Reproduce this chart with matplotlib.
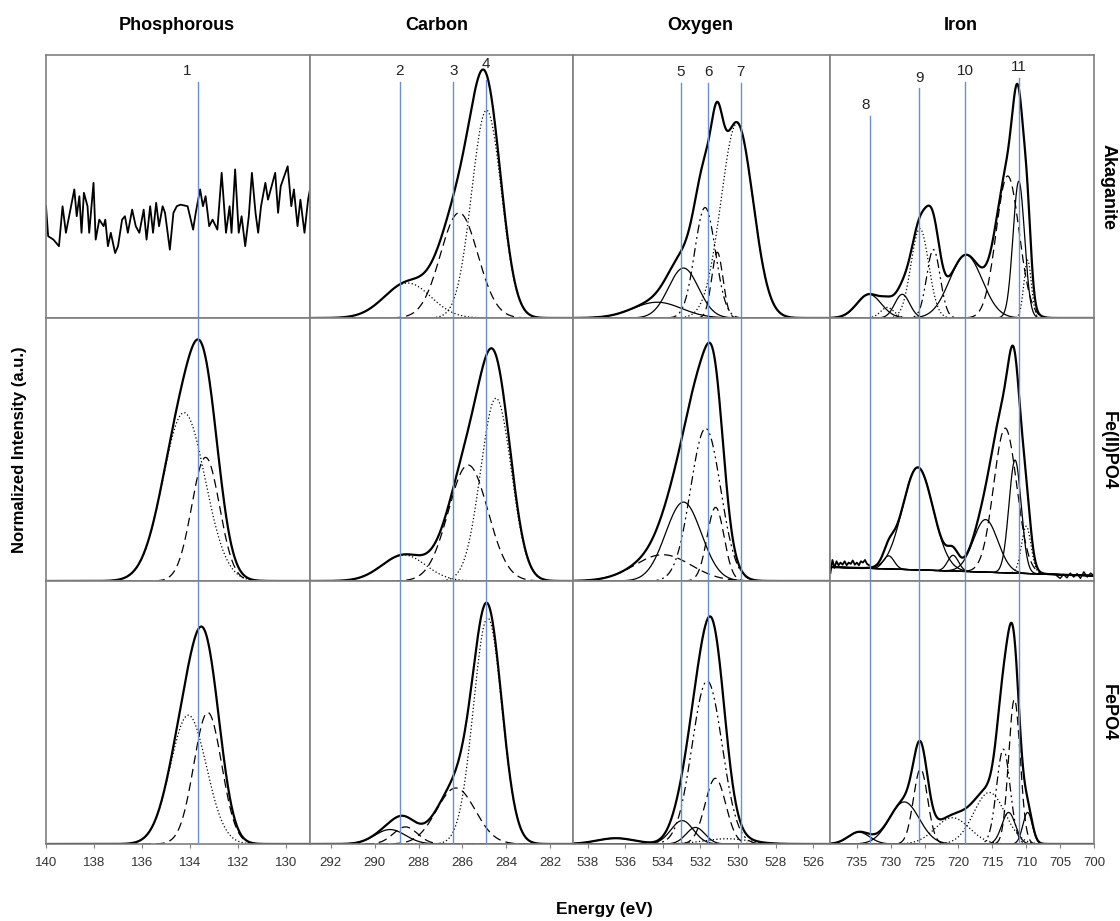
import numpy as np
import matplotlib
matplotlib.use('Agg')
import matplotlib.pyplot as plt

plt.rcParams['font.family'] = ['Liberation Sans', 'DejaVu Sans']

elements = ['Phosphorous', 'Carbon', 'Oxygen', 'Iron']
samples = ['Akaganite', 'Fe(II)PO4', 'FePO4']

# energy window of each column, high -> low binding energy
x_windows = [(140.0, 129.0), (292.95, 280.96), (538.78, 525.1), (738.96, 700.0)]
x_ticks = [[140, 138, 136, 134, 132, 130],
           [292, 290, 288, 286, 284, 282],
           [538, 536, 534, 532, 530, 528, 526],
           [735, 730, 725, 720, 715, 710, 705, 700]]

# reference peak positions (eV)
peak_ids = ['1', '2', '3', '4', '5', '6', '7', '8', '9', '10', '11']
peak_col = [0, 1, 1, 1, 2, 2, 2, 3, 3, 3, 3]
peak_energy = [133.68, 288.86, 286.42, 284.94, 533.05, 531.59, 529.86,
               733.03, 725.76, 719.0, 711.1]

# raw P 2p scan of akaganite (no real peak, just noise)
akag_p_energy = [140.00, 139.91, 139.69, 139.46, 139.31, 139.17, 138.82, 138.72, 138.61,
                 138.52, 138.42, 138.27, 138.20, 138.02, 137.93, 137.78, 137.60, 137.53,
                 137.42, 137.30, 137.12, 137.00, 136.83, 136.71, 136.59, 136.41, 136.26,
                 136.11, 135.93, 135.81, 135.66, 135.54, 135.41, 135.29, 135.14, 135.04,
                 134.84, 134.69, 134.55, 134.40, 134.10, 133.87, 133.76, 133.58, 133.46,
                 133.35, 133.20, 133.06, 132.86, 132.68, 132.50, 132.35, 132.27, 132.12,
                 131.97, 131.85, 131.70, 131.55, 131.42, 131.27, 131.16, 131.04, 130.86,
                 130.75, 130.45, 130.33, 130.22, 129.93, 129.78, 129.67, 129.52, 129.40,
                 129.23, 129.08, 129.00]
akag_p_signal = [0.425, 0.311, 0.298, 0.273, 0.425, 0.324, 0.489, 0.387, 0.463,
                 0.324, 0.476, 0.425, 0.324, 0.514, 0.298, 0.374, 0.349, 0.374,
                 0.273, 0.324, 0.247, 0.273, 0.374, 0.387, 0.324, 0.412, 0.349,
                 0.324, 0.412, 0.298, 0.425, 0.324, 0.438, 0.349, 0.425, 0.400,
                 0.260, 0.400, 0.425, 0.431, 0.425, 0.336, 0.400, 0.489, 0.425,
                 0.463, 0.349, 0.374, 0.336, 0.552, 0.324, 0.425, 0.324, 0.565,
                 0.324, 0.387, 0.273, 0.387, 0.552, 0.400, 0.324, 0.425, 0.514,
                 0.450, 0.552, 0.400, 0.501, 0.577, 0.425, 0.489, 0.349, 0.450,
                 0.324, 0.450, 0.489]

# fitted components: (centre eV, sigma eV, height)
c_akag = [(288.5, 1.06, 0.133), (286.15, 0.85, 0.40), (284.9, 0.68, 0.79)]
o_akag = [(534.3, 1.3, 0.06), (532.9, 0.8, 0.19), (531.75, 0.55, 0.42),
          (531.1, 0.3, 0.25), (530.05, 0.85, 0.74)]
fe_akag = [(733.2, 1.8, 0.09), (730.5, 1.0, 0.04), (728.3, 1.1, 0.09),
           (725.7, 1.3, 0.34), (723.7, 1.0, 0.26), (718.9, 2.4, 0.24),
           (712.74, 1.7, 0.54), (711.1, 0.85, 0.52), (709.8, 0.55, 0.22)]

p_fe2 = [(134.25, 0.88, 0.64), (133.35, 0.58, 0.47)]
c_fe2 = [(288.67, 1.0, 0.099), (285.74, 0.9, 0.441), (284.47, 0.7, 0.695)]
o_fe2 = [(534.0, 1.5, 0.10), (532.9, 0.95, 0.30), (531.72, 0.8, 0.58),
         (531.19, 0.45, 0.28)]
fe_fe2 = [(730.3, 0.8, 0.05), (726.0, 2.25, 0.39), (720.8, 0.8, 0.06),
          (716.0, 1.8, 0.20), (713.1, 1.7, 0.55), (711.65, 0.9, 0.43),
          (710.0, 0.7, 0.18)]
fe_fe2_baseline = [(739.0, 0.053), (700.0, 0.020)]
fe2_left_energy = [738.9, 738.6, 738.3, 738.0, 737.7, 737.4, 737.1, 736.8, 736.5, 736.2,
                   735.9, 735.6, 735.3, 735.0, 734.7, 734.4, 734.1, 733.8, 733.5, 733.2]
fe2_left_signal = [0.03, 0.08, 0.05, 0.075, 0.06, 0.07, 0.062, 0.075, 0.06, 0.07,
                   0.065, 0.078, 0.062, 0.07, 0.06, 0.075, 0.07, 0.08, 0.065, 0.06]
fe2_right_energy = [705.5, 705.0, 704.5, 704.0, 703.5, 703.0, 702.5, 702.0, 701.5,
                    701.0, 700.5, 700.0]
fe2_right_signal = [0.02, 0.01, 0.025, 0.012, 0.03, 0.015, 0.028, 0.01, 0.035,
                    0.015, 0.03, 0.02]

p_fe3 = [(134.07, 0.75, 0.49), (133.26, 0.58, 0.50)]
c_fe3 = [(289.3, 0.7, 0.055), (288.6, 0.55, 0.065), (286.3, 0.88, 0.213),
         (284.85, 0.65, 0.86)]
o_fe3 = [(536.5, 1.0, 0.022), (532.97, 0.6, 0.089), (532.26, 0.5, 0.063),
         (531.64, 0.8, 0.62), (531.2, 0.55, 0.25), (530.6, 1.2, 0.02)]
fe_fe3 = [(734.7, 1.6, 0.045), (728.0, 2.2, 0.16), (725.6, 1.05, 0.285),
          (720.9, 2.5, 0.10), (715.45, 2.3, 0.196), (713.38, 1.0, 0.36),
          (712.6, 1.0, 0.12), (711.75, 0.85, 0.55), (709.8, 0.7, 0.12)]

# line style of each component
LS = {'solid': '-', 'dot': (0, (1, 1.8)), 'dash': (0, (7, 4)),
      'dd': (0, (7, 3, 1.5, 3, 1.5, 3))}
c_akag_ls = ['dot', 'dash', 'dot']
o_akag_ls = ['solid', 'solid', 'dd', 'dash', 'dot']
fe_akag_ls = ['solid', 'dot', 'solid', 'dot', 'dd', 'solid', 'dash', 'solid', 'dot']
p_fe2_ls = ['dot', 'dash']
c_fe2_ls = ['dot', 'dash', 'dot']
o_fe2_ls = ['dash', 'solid', 'dd', 'dash']
fe_fe2_ls = ['solid', 'solid', 'solid', 'solid', 'dash', 'solid', 'dot']
p_fe3_ls = ['dot', 'dash']
c_fe3_ls = ['solid', 'dash', 'dash', 'dot']
o_fe3_ls = ['solid', 'solid', 'solid', 'dd', 'dash', 'dot']
fe_fe3_ls = ['solid', 'solid', 'dash', 'dot', 'dot', 'dd', 'solid', 'dash', 'solid']

fits = {
    (0, 1): (c_akag, c_akag_ls), (0, 2): (o_akag, o_akag_ls), (0, 3): (fe_akag, fe_akag_ls),
    (1, 0): (p_fe2, p_fe2_ls), (1, 1): (c_fe2, c_fe2_ls), (1, 2): (o_fe2, o_fe2_ls),
    (1, 3): (fe_fe2, fe_fe2_ls),
    (2, 0): (p_fe3, p_fe3_ls), (2, 1): (c_fe3, c_fe3_ls), (2, 2): (o_fe3, o_fe3_ls),
    (2, 3): (fe_fe3, fe_fe3_ls),
}

# label placement for the reference peaks (top row)
label_x = [134.1, 288.86, 286.42, 284.94, 533.05, 531.59, 529.86, 733.77, 725.76, 719.0, 711.1]
label_y = [0.939, 0.939, 0.939, 0.966, 0.935, 0.935, 0.935, 0.81, 0.914, 0.94, 0.955]
line_top = [0.897, 0.897, 0.897, 0.905, 0.894, 0.894, 0.894, 0.768, 0.875, 0.897, 0.913]


def gauss(x, c, s, h):
    return h * np.exp(-0.5 * ((x - c) / s) ** 2)


W, H = 1120, 921
col_px = [46, 310, 573, 830, 1094]
row_px = [55, 318, 581, 844]
frame = '#7f7f7f'
blue = '#6b8fd4'

fig = plt.figure(figsize=(W / 100, H / 100), dpi=100)
axes = {}
for r in range(3):
    for c in range(4):
        l, rgt = col_px[c], col_px[c + 1]
        top, bot = row_px[r], row_px[r + 1]
        ax = fig.add_axes([l / W, 1 - bot / H, (rgt - l) / W, (bot - top) / H])
        ax.set_xlim(*x_windows[c])
        ax.set_ylim(0, 1)
        ax.set_yticks([])
        for sp in ax.spines.values():
            sp.set_color(frame)
            sp.set_linewidth(1.2)
        if r == 2:
            ax.set_xticks(x_ticks[c])
            ax.tick_params(axis='x', direction='out', length=3, color=frame,
                           labelsize=9.5, labelcolor='#333333', pad=6)
        else:
            ax.set_xticks([])
        axes[(r, c)] = ax

# curves
for (r, c), (comps, styles) in fits.items():
    ax = axes[(r, c)]
    hi, lo = x_windows[c]
    x = np.linspace(hi, lo, 800)
    if (r, c) == (1, 3):
        (e0, b0), (e1, b1) = fe_fe2_baseline
        base = np.interp(x, [e1, e0], [b1, b0])
    else:
        base = np.zeros_like(x)
    env = base.copy()
    for (cen, sig, h), st in zip(comps, styles):
        y = gauss(x, cen, sig, h)
        env += y
        ax.plot(x, base + y, color='black', lw=0.9, ls=LS[st])
    if (r, c) == (1, 3):
        ax.plot(x, base, color='black', lw=0.9)
    ax.plot(x, env, color='black', lw=1.6)

axes[(0, 0)].plot(akag_p_energy, akag_p_signal, color='black', lw=1.3)
axes[(1, 3)].plot(fe2_left_energy, fe2_left_signal, color='black', lw=1.3)
axes[(1, 3)].plot(fe2_right_energy, fe2_right_signal, color='black', lw=1.0)

# reference peak lines across all three rows
for i, pid in enumerate(peak_ids):
    c = peak_col[i]
    for r in range(3):
        ax = axes[(r, c)]
        ymax = line_top[i] if r == 0 else 1.0
        ax.axvline(peak_energy[i], ymin=0, ymax=ymax, color=blue, lw=1.0, zorder=3)
    axes[(0, c)].text(label_x[i], label_y[i], pid, ha='center', va='center',
                      fontsize=11, color='#222222')

# column titles and row labels
title_x = [177, 437, 700, 961]
for c, name in enumerate(elements):
    fig.text(title_x[c] / W, 1 - 25 / H, name, ha='center', va='center',
             fontsize=13, fontweight='bold')
row_y = [187, 450, 713]
for r, name in enumerate(samples):
    fig.text(1108 / W, 1 - row_y[r] / H, name, ha='center', va='center',
             rotation=270, fontsize=13, fontweight='bold')

fig.text(20 / W, 1 - 450 / H, 'Normalized Intensity (a.u.)', ha='center', va='center',
         rotation=90, fontsize=12, fontweight='bold')
fig.text(604 / W, 1 - 909 / H, 'Energy (eV)', ha='center', va='center',
         fontsize=12.5, fontweight='bold')

fig.savefig('out.png', dpi=100, facecolor='white')
